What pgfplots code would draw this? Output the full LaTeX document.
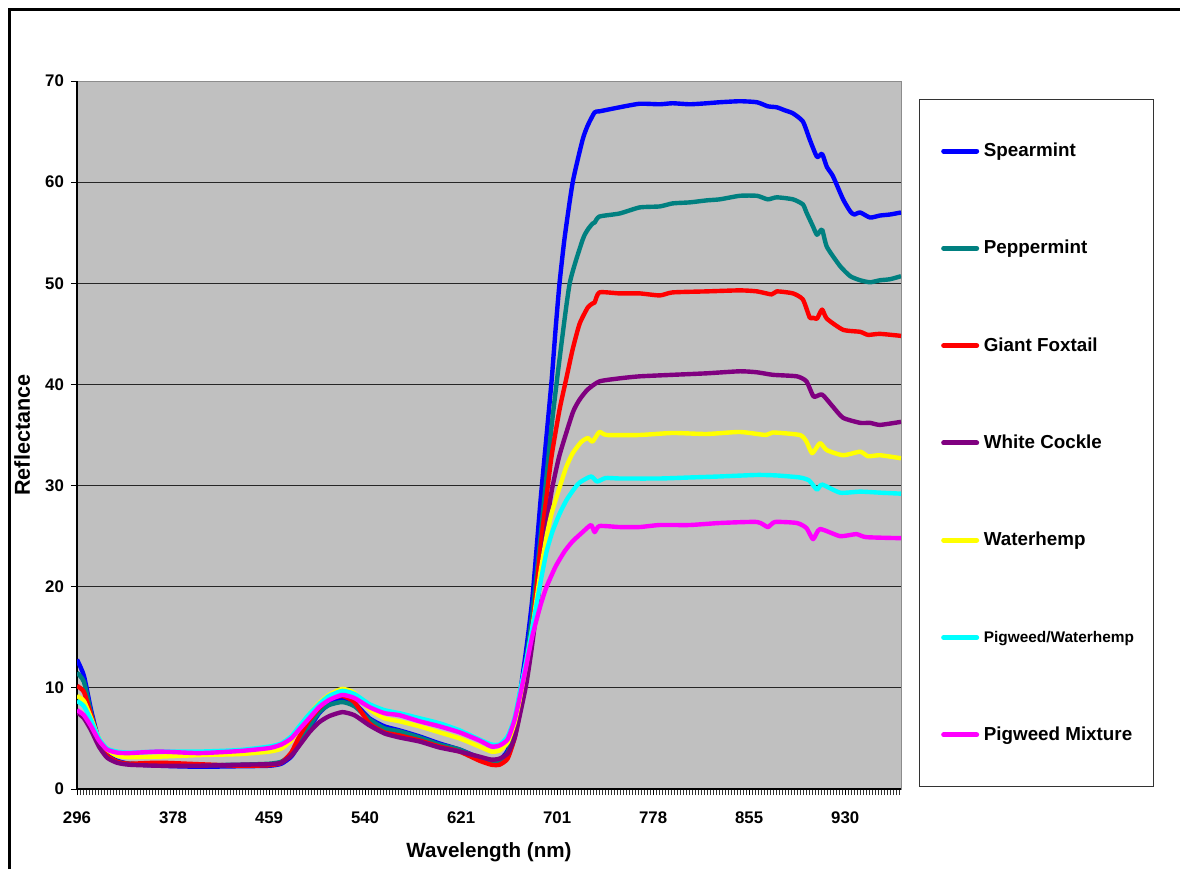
\documentclass[border=0pt]{standalone}
\usepackage{pgfplots}
\pgfplotsset{compat=1.18}
\usepackage{fontspec}
\setmainfont{Liberation Sans}
\definecolor{cBlue}{RGB}{0,0,255}
\definecolor{cTeal}{RGB}{0,128,128}
\definecolor{cRed}{RGB}{255,0,0}
\definecolor{cPurple}{RGB}{128,0,128}
\definecolor{cYellow}{RGB}{255,255,0}
\definecolor{cCyan}{RGB}{0,255,255}
\definecolor{cMagenta}{RGB}{255,0,255}
\definecolor{plotbg}{RGB}{192,192,192}
\newcommand\lent[1]{\makebox[85pt][l]{\rule[-2.5pt]{0pt}{9.5pt}#1}}
\begin{document}
\begin{tikzpicture}
\path[use as bounding box] (0,0) rectangle (590pt,434.5pt);
\draw[line width=1.2pt] (4.75pt,0pt) -- (4.75pt,429.75pt) -- (590pt,429.75pt);
\begin{axis}[
  at={(38.5pt,40pt)}, anchor=south west,
  width=412pt, height=354pt, scale only axis,
  xmin=0, xmax=274.6, ymin=0, ymax=70,
  axis x line=bottom, axis y line=left,
  axis line style={-, black, line width=0.6pt},
  axis background/.style={fill=plotbg, draw=gray!90},
  xtick={0,32,...,256},
  xticklabels={296,378,459,540,621,701,778,855,930},
  minor xtick={0,1,...,274},
  ytick={0,10,...,60},
  extra y ticks={70},
  extra y tick style={grid=none},
  ymajorgrids,
  major grid style={black!85, line width=0.5pt},
  tick align=outside,
  major tick length=3pt, minor tick length=3pt,
  tick style={black, line width=0.5pt},
  minor tick style={black!80, line width=0.4pt},
  /pgf/number format/assume math mode=true,
  ticklabel style={font=\fontsize{8.4}{10}\selectfont\bfseries},
  xticklabel style={yshift=-5pt},
  xlabel={Wavelength (nm)}, ylabel={Reflectance},
  xlabel style={at={(axis description cs:0.5,-0.089)}, anchor=center, font=\fontsize{10.3}{12}\selectfont\bfseries},
  ylabel style={at={(axis description cs:-0.0667,0.5)}, anchor=center, font=\fontsize{10.8}{12}\selectfont\bfseries},
  no markers,
  every axis plot/.append style={line width=2.2pt, line join=round, smooth, tension=0.35},
  legend style={at={(axis description cs:1.0218,0.9746)}, anchor=north west, draw=black!80, line width=0.5pt, fill=white, inner xsep=0pt, inner ysep=21.5pt, row sep=40.15pt, column sep=0pt, nodes={inner sep=0pt}, font=\fontsize{9.4}{11}\selectfont\bfseries},
  legend cell align=left,
  legend image code/.code={\path (0pt,0pt) (30pt,0pt); \draw[#1, line width=2.5pt, line cap=round] (11pt,0pt) -- (27.5pt,0pt);},
]
\addplot[color=cBlue] coordinates {
(0,12.8) (2.3,11.2) (4.7,7.8) (7.3,4.8) (10.0,3.4) (13.3,2.8) (17.4,2.5) (27.4,2.3) (40.7,2.2) (54.1,2.25) (64.1,2.3) (68.1,2.5) (71.4,3.2) (74.1,4.4) (77.4,6.0) (80.7,7.5) (84.0,8.4) (88.4,8.9) (92.4,8.5) (97.4,7.0) (102.4,6.2) (107.4,5.8) (114.1,5.2) (120.8,4.5) (127.5,3.9) (134.1,3.1) (138.1,2.8) (140.8,2.9) (143.5,3.8) (145.8,6.5) (147.5,9.2) (149.8,14.0) (151.8,19.0) (154.5,28.6) (156.5,35.0) (158.2,40.5) (159.5,45.5) (160.8,50.0) (162.5,54.5) (165.2,60.0) (168.5,64.2) (170.2,65.6) (172.5,66.9) (174.1,67.0) (180.8,67.4) (187.5,67.75) (194.2,67.7) (198.5,67.8) (204.2,67.7) (209.9,67.8) (214.2,67.9) (220.9,68.0) (226.6,67.9) (230.2,67.5) (233.2,67.4) (235.9,67.1) (238.6,66.8) (241.9,66.0) (244.2,64.2) (246.6,62.5) (248.3,62.8) (249.9,61.5) (251.9,60.6) (255.3,58.3) (257.7,57.1) (259.0,56.8) (261.0,57.0) (264.3,56.5) (267.6,56.7) (270.9,56.8) (274.6,57.0)
};
\addlegendentry{\lent{Spearmint}}
\addplot[color=cTeal] coordinates {
(0,11.5) (2.3,10.6) (4.7,7.5) (7.3,4.7) (10.0,3.3) (13.3,2.7) (17.4,2.5) (27.4,2.4) (40.7,2.35) (54.1,2.4) (64.1,2.5) (68.1,2.7) (71.4,3.4) (74.1,4.6) (77.4,6.2) (80.7,7.6) (84.0,8.3) (88.4,8.6) (92.4,8.2) (97.4,6.9) (102.4,6.0) (107.4,5.7) (114.1,5.1) (120.8,4.4) (127.5,3.9) (134.1,3.0) (138.1,2.7) (140.8,2.8) (143.5,3.6) (145.8,6.0) (147.5,8.8) (149.8,13.0) (151.8,17.5) (154.5,25.0) (156.5,31.0) (158.2,36.0) (160.8,42.5) (164.2,50.0) (168.5,54.3) (170.2,55.3) (171.8,55.9) (172.5,56.0) (174.1,56.6) (180.8,56.9) (187.5,57.5) (194.2,57.6) (198.5,57.9) (204.2,58.0) (209.9,58.2) (214.2,58.3) (220.9,58.65) (226.6,58.65) (230.2,58.3) (233.2,58.5) (238.6,58.3) (241.9,57.8) (243.1,57.0) (245.3,55.6) (246.6,54.8) (248.3,55.3) (249.9,53.6) (254.3,51.7) (257.7,50.7) (261.0,50.3) (264.3,50.1) (267.6,50.3) (270.9,50.4) (274.6,50.7)
};
\addlegendentry{\lent{Peppermint}}
\addplot[color=cRed] coordinates {
(0,10.2) (2.3,9.6) (4.7,7.3) (7.3,4.8) (10.0,3.3) (13.3,2.7) (17.4,2.5) (27.4,2.6) (40.7,2.45) (54.1,2.3) (64.1,2.35) (68.1,2.6) (71.4,3.6) (74.1,5.2) (77.4,6.8) (80.7,8.0) (84.0,8.9) (88.4,9.2) (92.4,8.6) (97.4,6.5) (102.4,5.6) (107.4,5.3) (114.1,4.8) (120.8,4.2) (127.5,3.7) (134.1,2.8) (138.1,2.4) (140.8,2.4) (143.5,3.0) (145.8,5.0) (147.5,7.5) (149.8,11.5) (151.8,16.0) (154.5,24.0) (156.5,29.0) (158.2,33.0) (160.8,37.5) (163.0,40.5) (165.2,43.5) (167.5,46.0) (170.2,47.6) (171.8,48.0) (172.5,48.1) (174.1,49.1) (180.8,49.0) (187.5,49.0) (194.2,48.8) (198.5,49.1) (209.9,49.2) (220.9,49.3) (226.6,49.2) (231.5,48.9) (233.2,49.2) (238.6,49.0) (241.9,48.4) (244.2,46.6) (245.3,46.6) (246.6,46.5) (248.3,47.4) (249.9,46.5) (255.3,45.4) (261.0,45.2) (263.6,44.9) (267.6,45.0) (274.6,44.8)
};
\addlegendentry{\lent{Giant Foxtail}}
\addplot[color=cPurple] coordinates {
(0,7.6) (2.3,7.0) (4.7,5.8) (7.3,4.2) (10.0,3.1) (13.3,2.6) (17.4,2.4) (27.4,2.3) (40.7,2.3) (54.1,2.4) (64.1,2.45) (68.1,2.6) (71.4,3.3) (74.1,4.3) (77.4,5.6) (80.7,6.6) (84.0,7.2) (88.4,7.6) (92.4,7.3) (97.4,6.3) (102.4,5.5) (107.4,5.1) (114.1,4.7) (120.8,4.1) (127.5,3.7) (134.1,3.2) (138.1,2.9) (140.8,3.0) (143.5,3.5) (145.8,5.0) (147.5,7.2) (149.8,10.5) (151.8,14.5) (154.5,21.0) (156.5,26.0) (158.2,29.5) (160.8,33.0) (165.2,37.2) (167.5,38.5) (170.2,39.5) (174.1,40.3) (180.8,40.6) (187.5,40.8) (198.5,40.95) (209.9,41.1) (220.9,41.3) (226.6,41.2) (231.9,40.95) (239.9,40.8) (243.1,40.3) (245.5,38.8) (248.3,39.0) (251.9,37.8) (255.3,36.7) (261.0,36.2) (264.3,36.2) (267.6,36.0) (274.6,36.3)
};
\addlegendentry{\lent{White Cockle}}
\addplot[color=cYellow] coordinates {
(0,9.2) (2.3,8.7) (4.7,7.0) (7.3,5.0) (10.0,3.9) (13.3,3.3) (17.4,3.15) (27.4,3.2) (40.7,3.35) (54.1,3.45) (64.1,3.7) (68.1,4.0) (71.4,4.8) (74.1,6.0) (77.4,7.4) (80.7,8.5) (84.0,9.3) (88.4,9.9) (92.4,9.5) (97.4,7.9) (102.4,7.0) (107.4,6.7) (114.1,6.2) (120.8,5.6) (127.5,5.0) (134.1,4.2) (138.1,3.7) (140.8,3.8) (143.5,4.6) (145.8,6.5) (147.5,8.8) (149.8,12.5) (151.8,16.0) (154.5,21.5) (156.5,25.0) (158.2,27.3) (160.8,29.8) (163.0,31.8) (165.2,33.2) (168.0,34.3) (170.2,34.7) (171.8,34.35) (174.1,35.3) (176.5,35.0) (187.5,35.0) (198.5,35.2) (209.9,35.1) (220.9,35.3) (229.6,35.0) (231.9,35.25) (240.9,35.0) (243.1,34.35) (245.0,33.2) (247.6,34.2) (249.9,33.5) (255.3,33.0) (261.0,33.35) (263.6,32.9) (267.6,33.0) (274.6,32.7)
};
\addlegendentry{\lent{Waterhemp}}
\addplot[color=cCyan] coordinates {
(0,8.7) (2.3,8.2) (4.7,6.8) (7.3,5.0) (10.0,4.0) (13.3,3.7) (17.4,3.6) (27.4,3.7) (40.7,3.7) (54.1,3.85) (64.1,4.2) (68.1,4.5) (71.4,5.2) (74.1,6.2) (77.4,7.4) (80.7,8.4) (84.0,9.2) (88.4,9.7) (92.4,9.4) (97.4,8.4) (102.4,7.8) (107.4,7.5) (114.1,7.0) (120.8,6.5) (127.5,5.8) (134.1,4.9) (138.1,4.4) (140.8,4.4) (143.5,5.2) (145.8,7.0) (147.5,9.5) (149.8,12.8) (151.8,16.0) (154.5,20.5) (156.5,23.5) (158.5,25.5) (160.8,27.2) (163.2,28.6) (165.5,29.6) (167.5,30.3) (171.3,30.9) (173.3,30.4) (176.2,30.75) (180.8,30.7) (194.2,30.7) (204.2,30.8) (214.2,30.9) (226.6,31.05) (233.2,31.0) (240.9,30.8) (244.0,30.5) (246.6,29.6) (248.3,30.1) (254.3,29.3) (261.0,29.4) (267.6,29.3) (274.6,29.2)
};
\addlegendentry{\lent{\fontsize{7.7}{9}\selectfont Pigweed/Waterhemp}}
\addplot[color=cMagenta] coordinates {
(0,7.8) (2.3,7.3) (4.7,6.2) (7.3,4.8) (10.0,3.9) (13.3,3.6) (17.4,3.55) (27.4,3.7) (40.7,3.55) (54.1,3.75) (64.1,4.05) (68.1,4.4) (71.4,5.0) (74.1,5.9) (77.4,7.0) (80.7,8.1) (84.0,8.8) (88.4,9.3) (92.4,9.0) (97.4,8.1) (102.4,7.5) (107.4,7.3) (114.1,6.7) (120.8,6.2) (127.5,5.6) (134.1,4.8) (138.1,4.2) (140.8,4.3) (143.5,4.9) (145.8,6.8) (147.5,9.0) (149.8,12.3) (151.8,15.2) (154.5,18.2) (156.5,20.0) (159.5,22.0) (162.5,23.5) (165.2,24.5) (168.5,25.4) (171.3,26.1) (172.5,25.4) (174.1,26.0) (180.8,25.9) (187.5,25.9) (194.2,26.1) (204.2,26.1) (214.2,26.3) (226.6,26.4) (230.2,25.9) (232.6,26.4) (239.9,26.3) (243.1,25.8) (245.3,24.7) (247.6,25.7) (254.3,25.0) (259.7,25.2) (263.0,24.9) (274.6,24.8)
};
\addlegendentry{\lent{Pigweed Mixture}}
\end{axis}
\end{tikzpicture}
\end{document}
